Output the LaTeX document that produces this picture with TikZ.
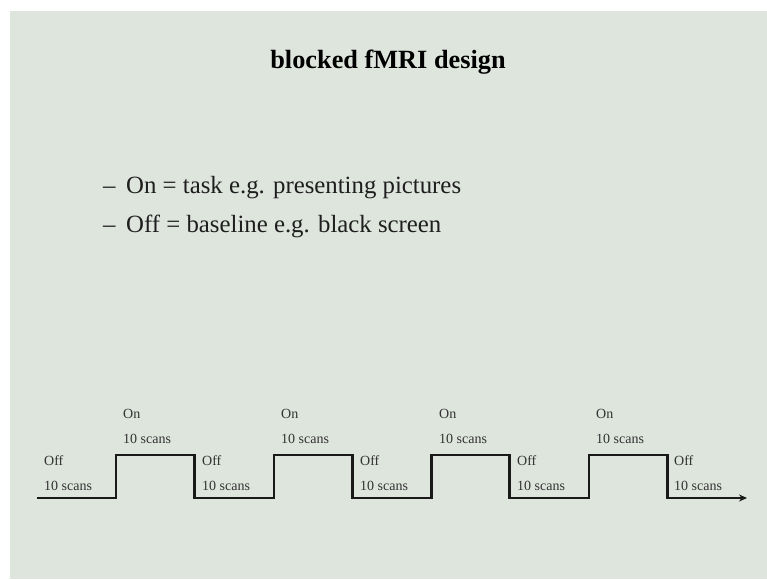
\documentclass[tikz,border=0pt]{standalone}
\usepackage{fontspec}
\setmainfont{Liberation Serif}
\usetikzlibrary{arrows.meta}
\definecolor{slidebg}{RGB}{222,229,221}
\definecolor{labelgray}{RGB}{50,50,50}
\definecolor{textdark}{RGB}{30,30,30}
\begin{document}
\begin{tikzpicture}[x=1pt,y=-1pt,
  titlestyle/.style={font=\fontsize{26.3}{30}\selectfont\bfseries, text=black, inner sep=0pt, anchor=base},
  bulletstyle/.style={font=\fontsize{24.8}{28}\selectfont, text=textdark, inner sep=0pt, anchor=base west},
  lbl/.style={font=\fontsize{14}{16}\selectfont, text=labelgray, inner sep=0pt, anchor=base west},
  wave/.style={line width=2.2pt, draw=black!90, line join=miter}
]
\useasboundingbox (0,0) rectangle (767,579);
\fill[white] (0,0) rectangle (767,579);
\fill[slidebg] (10,11) rectangle (767,579);

\node[titlestyle] (title) at (388,68) {blocked fMRI design};

\node[bulletstyle] (d1) at (103,193) {–};
\node[bulletstyle] (b1) at (126,193) {On = task e.g. presenting pictures};
\node[bulletstyle] (d2) at (103,232) {–};
\node[bulletstyle] (b2) at (126,232) {Off = baseline e.g. black screen};

% waveform corner coordinates
\coordinate (s0) at (37,498);
\coordinate (r1l) at (116,498);   \coordinate (r1h) at (116,455);
\coordinate (f1h) at (194.5,455); \coordinate (f1l) at (194.5,498);
\coordinate (r2l) at (274,498);   \coordinate (r2h) at (274,455);
\coordinate (f2h) at (352.5,455); \coordinate (f2l) at (352.5,498);
\coordinate (r3l) at (431.5,498); \coordinate (r3h) at (431.5,455);
\coordinate (f3h) at (509.5,455); \coordinate (f3l) at (509.5,498);
\coordinate (r4l) at (589,498);   \coordinate (r4h) at (589,455);
\coordinate (f4h) at (667.5,455); \coordinate (f4l) at (667.5,498);
\coordinate (e0) at (747,498);

\draw[wave,-{Stealth[length=8pt,width=7pt]}]
  (s0) -- (r1l) -- (r1h) -- (f1h) -- (f1l) -- (r2l) -- (r2h) -- (f2h) -- (f2l)
  -- (r3l) -- (r3h) -- (f3h) -- (f3l) -- (r4l) -- (r4h) -- (f4h) -- (f4l) -- (e0);

% Off labels
\foreach \x/\n in {44/1,202/2,360/3,517/4,674/5}{
  \node[lbl] (off\n) at (\x,465) {Off};
  \node[lbl] (offs\n) at (\x,490) {10 scans};
}
% On labels
\foreach \x/\n in {123/1,281/2,439/3,596/4}{
  \node[lbl] (on\n) at (\x,418) {On};
  \node[lbl] (ons\n) at (\x,443) {10 scans};
}
\end{tikzpicture}
\end{document}
